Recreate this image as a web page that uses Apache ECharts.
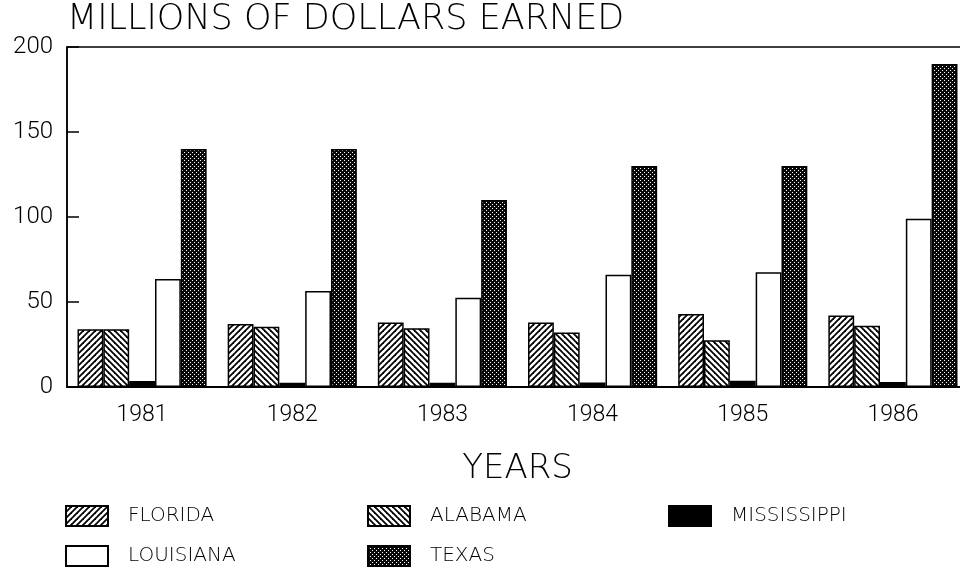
<!DOCTYPE html>
<html>
<head>
<meta charset="utf-8">
<script src="https://cdn.jsdelivr.net/npm/echarts@6/dist/echarts.min.js"></script>
<style>
  html, body { margin: 0; padding: 0; background: #fff; }
  #main { width: 960px; height: 570px; }
</style>
</head>
<body>
<div id="main"></div>
<script>
var years = ['1981', '1982', '1983', '1984', '1985', '1986'];
var florida = [34, 37, 38, 38, 43, 42];
var alabama = [34, 35.5, 34.5, 32, 27.5, 36];
var mississippi = [3.5, 2.5, 2.5, 2.7, 3.7, 3];
var louisiana = [63.5, 56.5, 52.5, 66, 67.5, 99];
var texas = [140, 140, 110, 130, 130, 190];
var yTicks = [0, 50, 100, 150, 200];

var NUM_FONT = 'Roboto';
var TXT_FONT = 'DejaVu Sans';

// hatch patterns drawn on small canvases
function hatch(dir) {
	var s = 6;
	var c = document.createElement('canvas');
	c.width = s; c.height = s;
	var g = c.getContext('2d');
	g.fillStyle = '#fff';
	g.fillRect(0, 0, s, s);
	g.strokeStyle = '#000';
	g.lineWidth = 1.8;
	for (var k = -1; k <= 1; k++) {
		g.beginPath();
		if (dir == 1) {
			g.moveTo(k * s - 1, s + 1);
			g.lineTo(k * s + s + 1, -1);
		} else {
			g.moveTo(k * s - 1, -1);
			g.lineTo(k * s + s + 1, s + 1);
		}
		g.stroke();
	}
	return { image: c, repeat: 'repeat' };
}

function dots() {
	var c = document.createElement('canvas');
	c.width = 4; c.height = 4;
	var g = c.getContext('2d');
	g.fillStyle = '#0a0a0a';
	g.fillRect(0, 0, 4, 4);
	g.fillStyle = '#fff';
	g.fillRect(0, 0, 1, 1);
	g.fillRect(2, 2, 1, 1);
	return { image: c, repeat: 'repeat' };
}

var main = echarts.init(document.getElementById('main'));

function bar(name, data, color) {
	return {
		name: name,
		type: 'bar',
		data: data,
		barGap: '0%',
		barCategoryGap: '14%',
		itemStyle: { color: color, borderColor: '#000', borderWidth: 1.5 },
		emphasis: { disabled: true }
	};
}

function legendCol(names, x) {
	return {
		data: names,
		orient: 'vertical',
		left: x,
		top: 505,
		padding: 0,
		icon: 'rect',
		itemWidth: 42,
		itemHeight: 20,
		itemGap: 18,
		textStyle: { color: '#000', fontSize: 20, fontFamily: TXT_FONT, fontWeight: 200, padding: [0, 0, 0, 15] }
	};
}

option = {
	animation: false,
	backgroundColor: '#fff',
	title: {
		text: 'MILLIONS OF DOLLARS EARNED',
		left: 67,
		top: 2,
		padding: 0,
		textStyle: { color: '#000', fontSize: 35, fontFamily: TXT_FONT, fontWeight: 200 }
	},
	legend: [
		legendCol(['FLORIDA', 'LOUISIANA'], 65),
		legendCol(['ALABAMA', 'TEXAS'], 367),
		legendCol(['MISSISSIPPI'], 668)
	],
	grid: {
		left: 67,
		top: 47,
		width: 901,
		height: 340,
		show: true,
		borderColor: '#000',
		borderWidth: 1.5,
		outerBoundsMode: 'none'
	},
	xAxis: {
		type: 'category',
		data: years,
		name: 'YEARS',
		nameLocation: 'middle',
		nameGap: 65,
		nameTextStyle: { color: '#000', fontSize: 34, fontFamily: TXT_FONT, fontWeight: 200 },
		axisLine: { lineStyle: { color: '#000', width: 2 } },
		axisTick: { show: false },
		axisLabel: { color: '#000', fontSize: 23, fontFamily: NUM_FONT, fontWeight: 300, margin: 17 }
	},
	yAxis: {
		type: 'value',
		min: yTicks[0],
		max: yTicks[yTicks.length - 1],
		interval: 50,
		splitLine: { show: false },
		axisLine: { show: true, lineStyle: { color: '#000', width: 1.5 } },
		axisTick: { show: true, inside: true, length: 12, lineStyle: { color: '#000', width: 1.5 } },
		axisLabel: { color: '#000', fontSize: 24, fontFamily: NUM_FONT, fontWeight: 300, margin: 14 }
	},
	series: [
		bar('FLORIDA', florida, hatch(1)),
		bar('ALABAMA', alabama, hatch(-1)),
		bar('MISSISSIPPI', mississippi, '#000'),
		bar('LOUISIANA', louisiana, '#fff'),
		bar('TEXAS', texas, dots())
	]
};
main.setOption(option);
</script>
</body>
</html>
